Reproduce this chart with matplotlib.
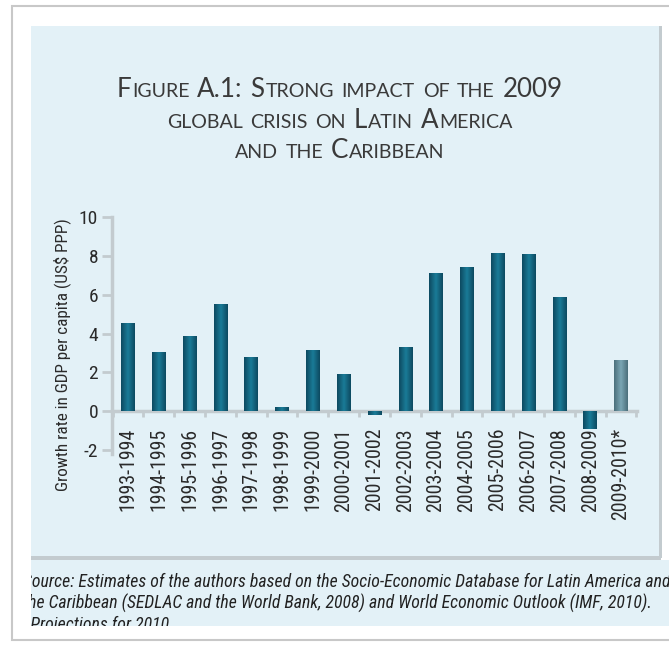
import numpy as np
import matplotlib
matplotlib.use("Agg")
import matplotlib.pyplot as plt
from matplotlib.patches import Rectangle
from matplotlib.colors import LinearSegmentedColormap

# data
periods = ["1993-1994", "1994-1995", "1995-1996", "1996-1997", "1997-1998",
           "1998-1999", "1999-2000", "2000-2001", "2001-2002", "2002-2003",
           "2003-2004", "2004-2005", "2005-2006", "2006-2007", "2007-2008",
           "2008-2009", "2009-2010*"]
growth = [4.55, 3.03, 3.87, 5.53, 2.8, 0.22, 3.13, 1.9, -0.2, 3.31,
          7.13, 7.44, 8.16, 8.08, 5.89, -0.89, 2.66]
projected = [False] * 16 + [True]

title_lines = ["Figure A.1: Strong impact of the 2009",
               "global crisis on Latin America",
               "and the Caribbean"]
source_lines = ["Source: Estimates of the authors based on the Socio-Economic Database for Latin America and",
                "the Caribbean (SEDLAC and the World Bank, 2008) and World Economic Outlook (IMF, 2010).",
                "*Projections for 2010."]

W, H = 669, 645
narrow = ["Roboto Condensed", "Liberation Sans Narrow", "DejaVu Sans Condensed", "Roboto"]
panel_col = "#e3f1f7"
grey = "#c3cbcf"

fig = plt.figure(figsize=(W / 100, H / 100), dpi=100)
fig.patch.set_facecolor("white")
renderer = fig.canvas.get_renderer()


def px(x, y):
    # pixel position (top-left origin) -> figure fraction
    return x / W, 1 - y / H


def box(x0, y0, x1, y1, **kw):
    r = Rectangle(px(x0, y1), (x1 - x0) / W, (y1 - y0) / H,
                  transform=fig.transFigure, zorder=-5, **kw)
    fig.patches.append(r)
    return r


# page frame and panels
box(12, 6, 675, 640, facecolor="white", edgecolor="#c8c8c8", lw=1.5)
box(31, 26, 661, 558, facecolor=panel_col, edgecolor="none")
box(659, 26, 662, 558, facecolor=grey, edgecolor="none")
box(31, 556, 661, 560, facecolor=grey, edgecolor="none")
band = box(31, 560, 669, 626, facecolor=panel_col, edgecolor="none")

# source text, clipped by the band
src = []
for i, line in enumerate(source_lines):
    x, y = px(23, 587 + i * 21.5)
    t = fig.text(x, y, line, family=narrow, style="italic", fontsize=12.5,
                 color="#222222", va="baseline", ha="left")
    t.set_clip_path(band)
    src.append(t)
w0 = src[0].get_window_extent(renderer).width
for t in src:
    t.set_fontsize(12.5 * 650 / w0)

# small caps title
big, small = 18.7, 14.1
title_col = "#3a3a3a"
for li, line in enumerate(title_lines):
    base_y = 97 + li * 30.5
    pieces = []
    for word in line.split(" "):
        runs = []
        for ch in word:
            size = small if ch.islower() else big
            if runs and runs[-1][1] == size:
                runs[-1][0] += ch.upper()
            else:
                runs.append([ch.upper(), size])
        pieces.append(runs)
    objs = []
    total = 0
    space = 7
    for wi, runs in enumerate(pieces):
        for txt, size in runs:
            t = fig.text(0, 0, txt, family="Lato", fontsize=size,
                         color=title_col, va="baseline", ha="left")
            w = t.get_window_extent(renderer).width
            objs.append((t, total))
            total += w + 0.8
        if wi < len(pieces) - 1:
            total += space
    start = 340 - total / 2
    for t, off in objs:
        t.set_position(px(start + off, base_y))

# chart
x0, x1 = 112, 637
ytop, ybot = 217, 454
ax = fig.add_axes([x0 / W, 1 - ybot / H, (x1 - x0) / W, (ybot - ytop) / H])
ax.patch.set_alpha(0)
pos = np.arange(len(periods))
bars = ax.bar(pos, growth, width=0.44, color="#16677f", zorder=3)

cm_main = LinearSegmentedColormap.from_list("m", ["#0d4a60", "#1a7b98", "#0d4a60"])
cm_proj = LinearSegmentedColormap.from_list("p", ["#4b6f7b", "#7aa6b4", "#4b6f7b"])
grad = np.linspace(0, 1, 64).reshape(1, -1)
for b, proj in zip(bars, projected):
    bx, by = b.get_x(), b.get_y()
    bw, bh = b.get_width(), b.get_height()
    im = ax.imshow(grad, cmap=cm_proj if proj else cm_main, aspect="auto",
                   extent=[bx, bx + bw, by, by + bh], zorder=4)
    im.set_clip_path(b)

ax.set_xlim(-0.52, 16.52)
ax.set_ylim(-2.2, 10)
ax.set_yticks([-2, 0, 2, 4, 6, 8, 10])
ax.set_yticklabels(["-2", "0", "2", "4", "6", "8", "10"])
for s in ["top", "right"]:
    ax.spines[s].set_visible(False)
ax.spines["bottom"].set_position(("data", 0))
for s in ["left", "bottom"]:
    ax.spines[s].set_color(grey)
    ax.spines[s].set_linewidth(2.5)
ax.spines["left"].set_bounds(-2.2, 10)

ax.set_xticks(pos)
ax.set_xticklabels(periods, rotation=90, family=narrow, fontsize=14.3, color="#2a2a2a")
ax.set_xticks(np.arange(len(periods) + 1) - 0.5, minor=True)
ax.tick_params(axis="x", which="major", length=0, pad=12)
ax.tick_params(axis="x", which="minor", length=4, width=2, color=grey, direction="out")
ax.tick_params(axis="y", length=7, width=2, color=grey, pad=3)
for lab in ax.get_yticklabels():
    lab.set_family(narrow)
    lab.set_fontsize(14)
    lab.set_color("#2a2a2a")

lx, ly = px(62, 355)
fig.text(lx, ly, "Growth rate in GDP per capita (US$ PPP)", rotation=90,
         family=narrow, fontsize=12.3, color="#2a2a2a", ha="center", va="center")

fig.savefig("out.png", dpi=100)
